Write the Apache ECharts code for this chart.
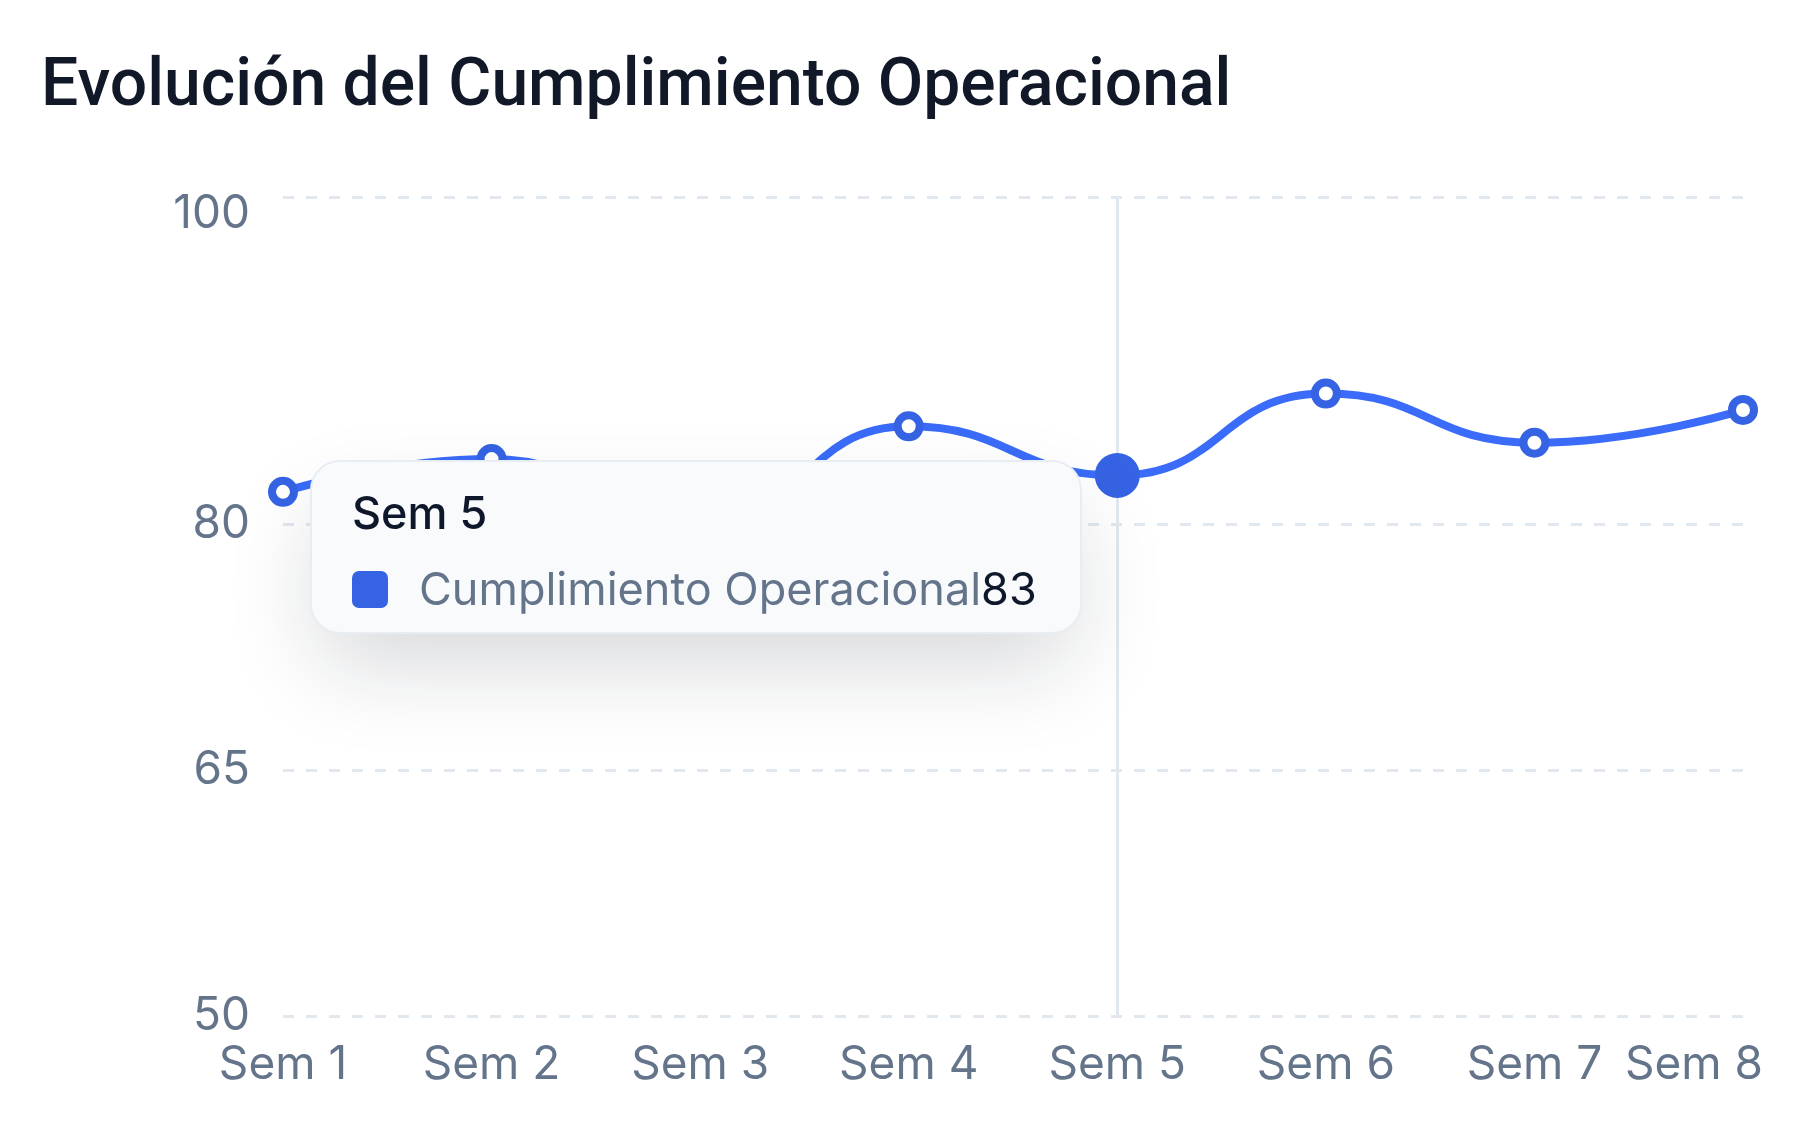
<!DOCTYPE html>
<html>
<head>
<meta charset="utf-8">
<title>Evolución del Cumplimiento Operacional</title>
<script src="https://cdn.jsdelivr.net/npm/echarts@6/dist/echarts.min.js"></script>
<style>
  html, body { margin: 0; padding: 0; background: #fff; }
  #main { width: 1814px; height: 1132px; }
</style>
</head>
<body>
<div id="main"></div>
<script>
var semanas = ['Sem 1', 'Sem 2', 'Sem 3', 'Sem 4', 'Sem 5', 'Sem 6', 'Sem 7', 'Sem 8'];
var cumplimiento = [82, 84, 80, 86, 83, 88, 85, 87];
var yTicks = [50, 65, 80, 100];
var serieNombre = 'Cumplimiento Operacional';

var azul = '#3563e3';
var gris = '#64748b';

var myChart = echarts.init(document.getElementById('main'));

var option = {
  animation: false,
  title: {
    text: 'Evolución del Cumplimiento Operacional',
    left: 36,
    top: 50,
    textStyle: {
      fontFamily: 'Roboto',
      fontSize: 66,
      fontWeight: 500,
      color: '#111827'
    }
  },
  grid: {
    left: 283,
    right: 71,
    top: 197,
    bottom: 116,
    containLabel: false,
    outerBoundsMode: 'none'
  },
  tooltip: {
    trigger: 'axis',
    triggerOn: 'none',
    alwaysShowContent: true,
    transitionDuration: 0,
    padding: 0,
    borderWidth: 2,
    borderColor: '#e8edf4',
    backgroundColor: '#f8fafc',
    extraCssText: 'width:772px;box-sizing:border-box;white-space:nowrap;border-radius:30px;box-shadow:0 40px 90px -10px rgba(15,23,42,0.17);',
    position: function () {
      return [310, 460];
    },
    axisPointer: {
      type: 'line',
      z: 1,
      lineStyle: { color: '#e2e8f0', width: 3, type: 'solid' }
    },
    formatter: function (params) {
      var p = params[0];
      return '<div style="padding:22px 20px 14px 40px;font-family:Inter;">' +
        '<div style="font-size:45px;line-height:58px;color:#0f172a;font-weight:500;">' + p.name + '</div>' +
        '<div style="margin-top:18px;display:flex;align-items:center;font-size:45px;line-height:58px;">' +
        '<span style="flex:0 0 36px;width:36px;height:37px;border-radius:7px;background:' + azul + ';margin-right:31px;"></span>' +
        '<span style="color:' + gris + ';">' + p.seriesName + '</span>' +
        '<span style="color:#0f172a;">' + p.value + '</span></div></div>';
    }
  },
  xAxis: {
    type: 'category',
    data: semanas,
    boundaryGap: false,
    axisLine: { show: false },
    axisTick: { show: false },
    axisLabel: {
      interval: 0,
      hideOverlap: false,
      color: gris,
      fontFamily: 'Inter',
      fontSize: 46,
      margin: 26,
      formatter: function (v, i) {
        if (i === semanas.length - 1) return '{last|' + v + '}';
        return v;
      },
      rich: {
        last: { fontFamily: 'Inter', fontSize: 46, color: gris, padding: [0, 98, 0, 0] }
      }
    }
  },
  yAxis: {
    type: 'value',
    min: 50,
    max: 100,
    axisLine: { show: false },
    axisTick: { show: false, customValues: yTicks },
    axisLabel: {
      customValues: yTicks,
      color: gris,
      fontFamily: 'Inter',
      fontSize: 46,
      margin: 33,
      formatter: function (v) {
        if (v === 100) return '{top|' + v + '}';
        return v;
      },
      rich: {
        top: { fontFamily: 'Inter', fontSize: 46, color: gris, padding: [34, 0, 0, 0] }
      }
    },
    splitLine: {
      show: true,
      lineStyle: { color: '#e2e8f0', width: 3, type: [11, 12] }
    }
  },
  series: [
    {
      name: serieNombre,
      type: 'line',
      z: 3,
      data: cumplimiento,
      smooth: true,
      symbol: 'circle',
      symbolSize: 22,
      lineStyle: { color: azul, width: 8 },
      itemStyle: { color: '#fff', borderColor: azul, borderWidth: 8 },
      emphasis: {
        scale: 1.68,
        itemStyle: { color: azul, borderColor: azul, borderWidth: 8 }
      }
    }
  ]
};

myChart.setOption(option);
myChart.dispatchAction({ type: 'showTip', seriesIndex: 0, dataIndex: 4 });
</script>
</body>
</html>
